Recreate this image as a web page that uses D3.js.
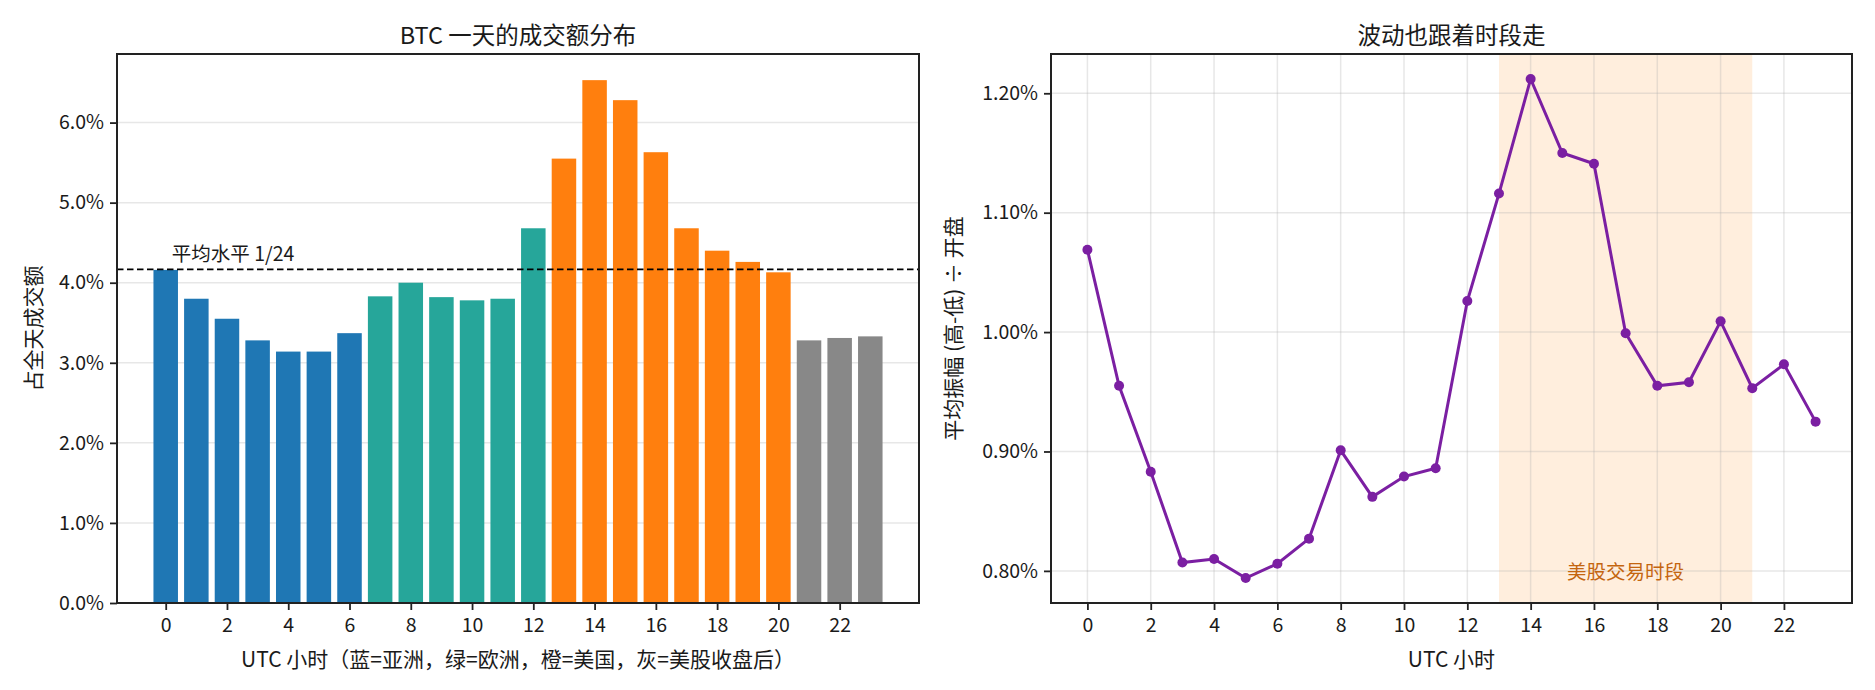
<!DOCTYPE html>
<html>
<head>
<meta charset="utf-8">
<script src="https://cdn.jsdelivr.net/npm/d3@7"></script>
<style>
  body { margin: 0; background: #fff; }
  svg text { font-family: "Noto Sans CJK SC", "Noto Sans", sans-serif; fill: #1a1a1a; }
</style>
</head>
<body>
<div id="chart"></div>
<script>
// hour of day (UTC)
const hours = d3.range(24);

// share of the day's volume, percent
const volumeShare = [4.16, 3.80, 3.55, 3.28, 3.14, 3.14, 3.37, 3.83, 4.00, 3.82, 3.78, 3.80,
                     4.68, 5.55, 6.53, 6.28, 5.63, 4.68, 4.40, 4.26, 4.13, 3.28, 3.31, 3.33];

// which session each hour belongs to
const session = ["asia", "asia", "asia", "asia", "asia", "asia", "asia",
                 "europe", "europe", "europe", "europe", "europe", "europe",
                 "us", "us", "us", "us", "us", "us", "us", "us",
                 "after", "after", "after"];

// mean (high-low)/open, percent
const amplitude = [1.069, 0.955, 0.883, 0.807, 0.810, 0.794, 0.806, 0.827, 0.901, 0.862, 0.879, 0.886,
                   1.026, 1.116, 1.212, 1.150, 1.141, 0.999, 0.955, 0.958, 1.009, 0.953, 0.973, 0.925];

const xTicks = [0, 2, 4, 6, 8, 10, 12, 14, 16, 18, 20, 22];
const leftYTicks = [0, 1, 2, 3, 4, 5, 6];
const rightYTicks = [0.8, 0.9, 1.0, 1.1, 1.2];
const usSession = [13, 21];

const sessionColor = {asia: "#1f77b4", europe: "#26a69a", us: "#ff7f0e", after: "#888888"};

const width = 1875, height = 690;
const svg = d3.select("#chart").append("svg")
    .attr("width", width)
    .attr("height", height);

const plotTop = 54, plotBottom = 603;
const tickFont = 19.5, labelFont = 21;

// ---------- left: volume share bars ----------
const L = {x0: 117, x1: 919};
const xL = d3.scaleLinear().domain([-1.59, 24.59]).range([L.x0, L.x1]);
const yL = d3.scaleLinear().domain([0, d3.max(volumeShare) * 1.05]).range([plotBottom, plotTop]);

const gL = svg.append("g");

gL.selectAll(".grid")
    .data(leftYTicks)
    .enter().append("line")
    .attr("x1", L.x0).attr("x2", L.x1)
    .attr("y1", d => yL(d)).attr("y2", d => yL(d))
    .attr("stroke", "#b0b0b0").attr("stroke-opacity", 0.3).attr("stroke-width", 1.5);

gL.selectAll("rect")
    .data(hours)
    .enter().append("rect")
    .attr("x", d => xL(d - 0.4))
    .attr("width", xL(0.8) - xL(0))
    .attr("y", d => yL(volumeShare[d]))
    .attr("height", d => plotBottom - yL(volumeShare[d]))
    .attr("fill", d => sessionColor[session[d]]);

const avg = 100 / 24;
gL.append("line")
    .attr("x1", L.x0).attr("x2", L.x1)
    .attr("y1", yL(avg)).attr("y2", yL(avg))
    .attr("stroke", "#000").attr("stroke-width", 1.8)
    .attr("stroke-dasharray", "6.5,3.5");

gL.append("text")
    .attr("x", xL(0.2)).attr("y", yL(avg + 0.1))
    .attr("font-size", tickFont)
    .text("平均水平 1/24");

// ---------- right: amplitude line ----------
const R = {x0: 1051, x1: 1852};
const ext = d3.extent(amplitude), pad = (ext[1] - ext[0]) * 0.05;
const xR = d3.scaleLinear().domain([-1.15, 24.15]).range([R.x0, R.x1]);
const yR = d3.scaleLinear().domain([ext[0] - pad, ext[1] + pad]).range([plotBottom, plotTop]);

const gR = svg.append("g");

gR.append("rect")
    .attr("x", xR(usSession[0]))
    .attr("width", xR(usSession[1]) - xR(usSession[0]))
    .attr("y", plotTop).attr("height", plotBottom - plotTop)
    .attr("fill", "#ffeedd");

gR.selectAll(".vgrid")
    .data(xTicks)
    .enter().append("line")
    .attr("x1", d => xR(d)).attr("x2", d => xR(d))
    .attr("y1", plotTop).attr("y2", plotBottom)
    .attr("stroke", "#b0b0b0").attr("stroke-opacity", 0.3).attr("stroke-width", 1.5);

gR.selectAll(".hgrid")
    .data(rightYTicks)
    .enter().append("line")
    .attr("x1", R.x0).attr("x2", R.x1)
    .attr("y1", d => yR(d)).attr("y2", d => yR(d))
    .attr("stroke", "#b0b0b0").attr("stroke-opacity", 0.3).attr("stroke-width", 1.5);

gR.append("text")
    .attr("x", xR(17)).attr("y", yR(0.80))
    .attr("text-anchor", "middle")
    .attr("dominant-baseline", "central")
    .attr("font-size", tickFont)
    .style("fill", "#c4650f")
    .text("美股交易时段");

const line = d3.line()
    .x(d => xR(d))
    .y(d => yR(amplitude[d]));

gR.append("path")
    .datum(hours)
    .attr("d", line)
    .attr("fill", "none")
    .attr("stroke", "#7b1fa2")
    .attr("stroke-width", 3);

gR.selectAll("circle")
    .data(hours)
    .enter().append("circle")
    .attr("cx", d => xR(d))
    .attr("cy", d => yR(amplitude[d]))
    .attr("r", 5)
    .attr("fill", "#7b1fa2");

// ---------- axes & frames ----------
function frame(g, x0, x1) {
  g.append("rect")
      .attr("x", x0).attr("y", plotTop)
      .attr("width", x1 - x0).attr("height", plotBottom - plotTop)
      .attr("fill", "none").attr("stroke", "#222").attr("stroke-width", 2);
}

function styleAxis(a) {
  a.select(".domain").remove();
  a.selectAll(".tick line").attr("stroke", "#222").attr("stroke-width", 1.8);
  a.selectAll(".tick text").attr("font-size", tickFont).style("fill", "#1a1a1a")
      .attr("font-family", "\"Noto Sans CJK SC\", sans-serif");
}

gL.append("g")
    .attr("transform", `translate(0,${plotBottom})`)
    .call(d3.axisBottom(xL).tickValues(xTicks).tickSize(7).tickPadding(8))
    .call(styleAxis);
gL.append("g")
    .attr("transform", `translate(${L.x0},0)`)
    .call(d3.axisLeft(yL).tickValues(leftYTicks).tickSize(7).tickPadding(6)
        .tickFormat(d => d.toFixed(1) + "%"))
    .call(styleAxis);
frame(gL, L.x0, L.x1);

gR.append("g")
    .attr("transform", `translate(0,${plotBottom})`)
    .call(d3.axisBottom(xR).tickValues(xTicks).tickSize(7).tickPadding(8))
    .call(styleAxis);
gR.append("g")
    .attr("transform", `translate(${R.x0},0)`)
    .call(d3.axisLeft(yR).tickValues(rightYTicks).tickSize(7).tickPadding(6)
        .tickFormat(d => d.toFixed(2) + "%"))
    .call(styleAxis);
frame(gR, R.x0, R.x1);

// ---------- titles & labels ----------
function label(x, y, txt, size, rotate) {
  const t = svg.append("text")
      .attr("text-anchor", "middle")
      .attr("dominant-baseline", "central")
      .attr("font-size", size)
      .text(txt);
  if (rotate) t.attr("transform", `translate(${x},${y}) rotate(-90)`);
  else t.attr("x", x).attr("y", y);
}

label((L.x0 + L.x1) / 2, 34, "BTC 一天的成交额分布", 23.5);
label((R.x0 + R.x1) / 2, 34, "波动也跟着时段走", 23.5);
label((L.x0 + L.x1) / 2, 658, "UTC 小时（蓝=亚洲，绿=欧洲，橙=美国，灰=美股收盘后）", labelFont);
label((R.x0 + R.x1) / 2, 658, "UTC 小时", labelFont);
label(32, (plotTop + plotBottom) / 2, "占全天成交额", labelFont, true);
label(952, (plotTop + plotBottom) / 2, "平均振幅 (高-低) ÷ 开盘", labelFont, true);
</script>
</body>
</html>
